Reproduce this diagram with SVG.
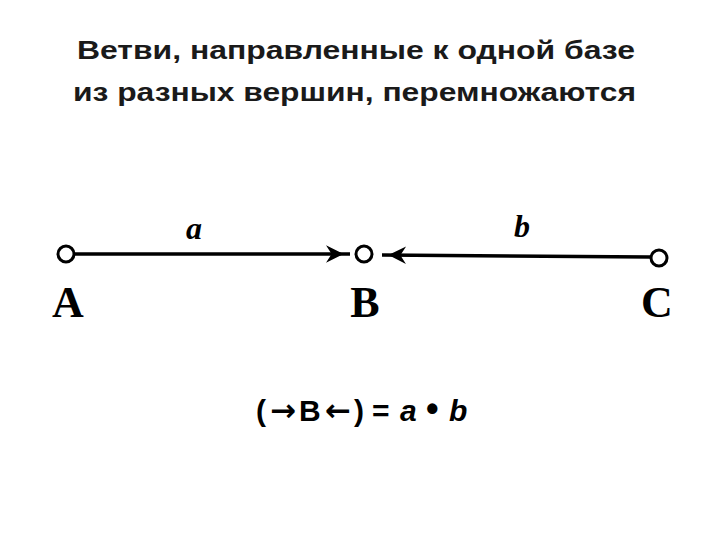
<svg xmlns="http://www.w3.org/2000/svg" width="720" height="540" viewBox="0 0 720 540">
<style>
.title{font-family:"Liberation Sans",Arial,sans-serif;font-weight:bold;font-size:25px;fill:#1a1a1a}
.node{fill:#fff;stroke:#000;stroke-width:3}
.lbl{font-family:"Liberation Serif","Times New Roman",serif;font-weight:bold;font-size:44px;fill:#000;text-anchor:middle}
.elbl{font-family:"Liberation Serif","Times New Roman",serif;font-style:italic;font-weight:bold;font-size:32px;fill:#000;text-anchor:middle}
.edge{stroke:#000;stroke-width:3.5;fill:none}
.f{font-family:"Liberation Sans",Arial,sans-serif;font-weight:bold;font-size:30px;fill:#000}
.ar{font-family:"DejaVu Sans",sans-serif;font-weight:bold;font-size:31px}
</style>
<defs>
<marker id="ah" viewBox="0 0 10 10" refX="10" refY="5" markerWidth="8" markerHeight="8" markerUnits="userSpaceOnUse" orient="auto" overflow="visible">
<path d="M-20,-6 L2,5 L-20,16 L-13,5 Z" fill="#000"/>
</marker>
</defs>
<text class="title" x="77" y="59" textLength="558" lengthAdjust="spacingAndGlyphs">Ветви, направленные к одной базе</text>
<text class="title" x="73" y="101" textLength="563" lengthAdjust="spacingAndGlyphs">из разных вершин, перемножаются</text>
<g id="connectors">
<line class="edge" x1="75" y1="254" x2="350" y2="254" marker-end="url(#ah)"/>
<line class="edge" x1="650" y1="257" x2="382" y2="255" marker-end="url(#ah)"/>
<text class="elbl" x="194" y="239">a</text>
<text class="elbl" x="522" y="237">b</text>
</g>
<g id="A">
<circle class="node" cx="66" cy="254" r="8"/>
<text class="lbl" x="68" y="317">A</text>
</g>
<g id="B">
<circle class="node" cx="364" cy="254" r="8"/>
<text class="lbl" x="365" y="317">B</text>
</g>
<g id="C">
<circle class="node" cx="659" cy="258" r="8"/>
<text class="lbl" x="657" y="317">C</text>
</g>
<text class="f" y="421"><tspan x="256">(</tspan><tspan class="ar" x="270">→</tspan><tspan x="299">B</tspan><tspan class="ar" x="325">←</tspan><tspan x="354">)</tspan><tspan x="372">=</tspan><tspan x="400" font-style="italic">a</tspan><tspan x="426" font-size="36">•</tspan><tspan x="449" font-style="italic">b</tspan></text>
</svg>
